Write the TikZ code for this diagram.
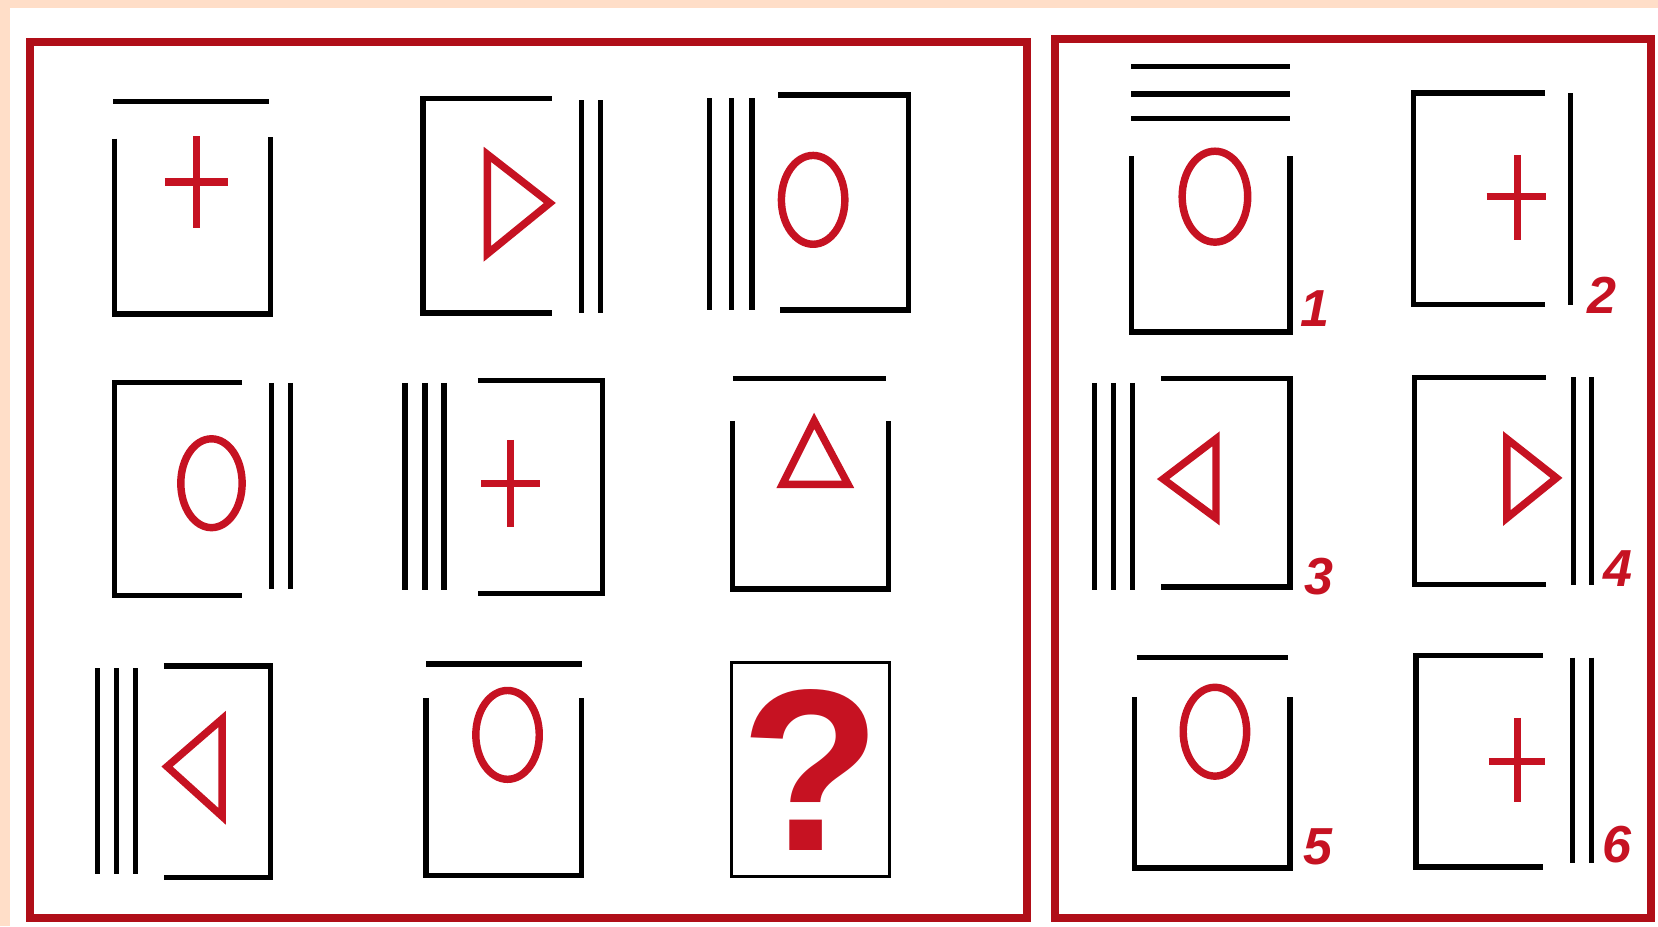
\documentclass[tikz,border=0pt]{standalone}
\usepackage{fontspec}
\setmainfont{Liberation Sans}
\usepackage{xcolor}
\usepackage{tikz}
\usetikzlibrary{calc}
\definecolor{PuzzlePeach}{RGB}{255,222,200}
\definecolor{PuzzleRed}{RGB}{198,18,34}
\definecolor{PuzzleFrame}{RGB}{176,14,24}

\begin{document}
\begin{tikzpicture}[x=0.01cm, y=-0.01cm,
    bar/.style={black, line width=1.45pt},
    sign/.style={PuzzleRed, line width=2pt},
    panel/.style={PuzzleFrame, line width=2.2pt},
    tag/.style={text=PuzzleRed, font=\fontsize{14}{14}\selectfont\bfseries\itshape, inner sep=0pt}]
    \path[use as bounding box] (0,0) rectangle (1568,876);
    \fill[PuzzlePeach] (0,0) rectangle (1568,876);
    \fill[white] (9,7.5) rectangle (1568,876);
    \draw[panel] (28,40) rectangle (971,868);
    \draw[panel] (998,37) rectangle (1561,868);

    % matrix, row 1
    \draw[bar] (107,96) -- (254,96);
    \draw[bar] (108,131) -- (108,297) -- (256,297) -- (256,130);
    \draw[sign] (156,172) -- (216,172) (186,129) -- (186,216);

    \draw[bar] (522,93) -- (400,93) -- (400,296) -- (522,296);
    \draw[bar] (550,95) -- (550,296) (568,95) -- (568,296);
    \draw[sign] (461,146) -- (520,192) -- (461,240) -- cycle;

    \draw[bar] (671,93) -- (671,293) (692,93) -- (692,293) (711,93) -- (711,293);
    \draw[bar] (736,90) -- (859,90) -- (859,293) -- (738,293);
    \draw[sign] (769,189) ellipse [x radius=30, y radius=42];

    % matrix, row 2
    \draw[bar] (229,362) -- (108,362) -- (108,563) -- (229,563);
    \draw[bar] (257,362) -- (257,557) (275,362) -- (275,557);
    \draw[sign] (200,457) ellipse [x radius=29, y radius=42];

    \draw[bar] (383,362) -- (383,558) (402,362) -- (402,558) (420,362) -- (420,558);
    \draw[bar] (452,360) -- (570,360) -- (570,561) -- (452,561);
    \draw[sign] (455,457) -- (511,457) (483,416) -- (483,498);

    \draw[bar] (693,358) -- (838,358);
    \draw[bar] (693,398) -- (693,557) -- (840,557) -- (840,398);
    \draw[sign] (770,398) -- (802,458) -- (740,458) -- cycle;

    % matrix, row 3
    \draw[bar] (92,632) -- (92,827) (110,632) -- (110,827) (128,632) -- (128,827);
    \draw[bar] (155,630) -- (256,630) -- (256,830) -- (155,830);
    \draw[sign] (158,725) -- (210,680) -- (210,772) -- cycle;

    \draw[bar] (403,628) -- (550,628);
    \draw[bar] (403,660) -- (403,828) -- (550,828) -- (550,660);
    \draw[sign] (480,695) ellipse [x radius=30, y radius=42];

    \draw[black, line width=0.8pt] (692,627) rectangle (841,829);
    \node[text=PuzzleRed, inner sep=0pt, font=\fontsize{62}{62}\selectfont\bfseries] (qmark) at (767,728) {?};

    % answers
    \draw[bar] (1070,63) -- (1220,63) (1070,89) -- (1220,89) (1070,112) -- (1220,112);
    \draw[bar] (1070,148) -- (1070,314) -- (1220,314) -- (1220,148);
    \draw[sign] (1149,186) ellipse [x radius=31, y radius=43];
    \node[tag] (ans1) at (1244,292) {1};

    \draw[bar] (1461,88) -- (1337,88) -- (1337,288) -- (1461,288);
    \draw[bar] (1485,88) -- (1485,288);
    \draw[sign] (1406,186) -- (1462,186) (1435,147) -- (1435,227);
    \node[tag] (ans2) at (1515,279) {2};

    \draw[bar] (1035,362) -- (1035,558) (1053,362) -- (1053,558) (1071,362) -- (1071,558);
    \draw[bar] (1098,358) -- (1220,358) -- (1220,555) -- (1098,555);
    \draw[sign] (1100,453) -- (1150,415) -- (1150,490) -- cycle;
    \node[tag] (ans3) at (1247,545) {3};

    \draw[bar] (1462,357) -- (1338,357) -- (1338,553) -- (1462,553);
    \draw[bar] (1488,357) -- (1488,553) (1505,357) -- (1505,553);
    \draw[sign] (1425,415) -- (1472,452) -- (1425,490) -- cycle;
    \node[tag] (ans4) at (1530,538) {4};

    \draw[bar] (1075,622) -- (1218,622);
    \draw[bar] (1073,659) -- (1073,821) -- (1220,821) -- (1220,659);
    \draw[sign] (1149,692) ellipse [x radius=30, y radius=42];
    \node[tag] (ans5) at (1246,801) {5};

    \draw[bar] (1459,620) -- (1339,620) -- (1339,820) -- (1459,820);
    \draw[bar] (1487,622) -- (1487,816) (1505,622) -- (1505,816);
    \draw[sign] (1408,720) -- (1461,720) (1435,679) -- (1435,758);
    \node[tag] (ans6) at (1529,799) {6};
\end{tikzpicture}
\end{document}
